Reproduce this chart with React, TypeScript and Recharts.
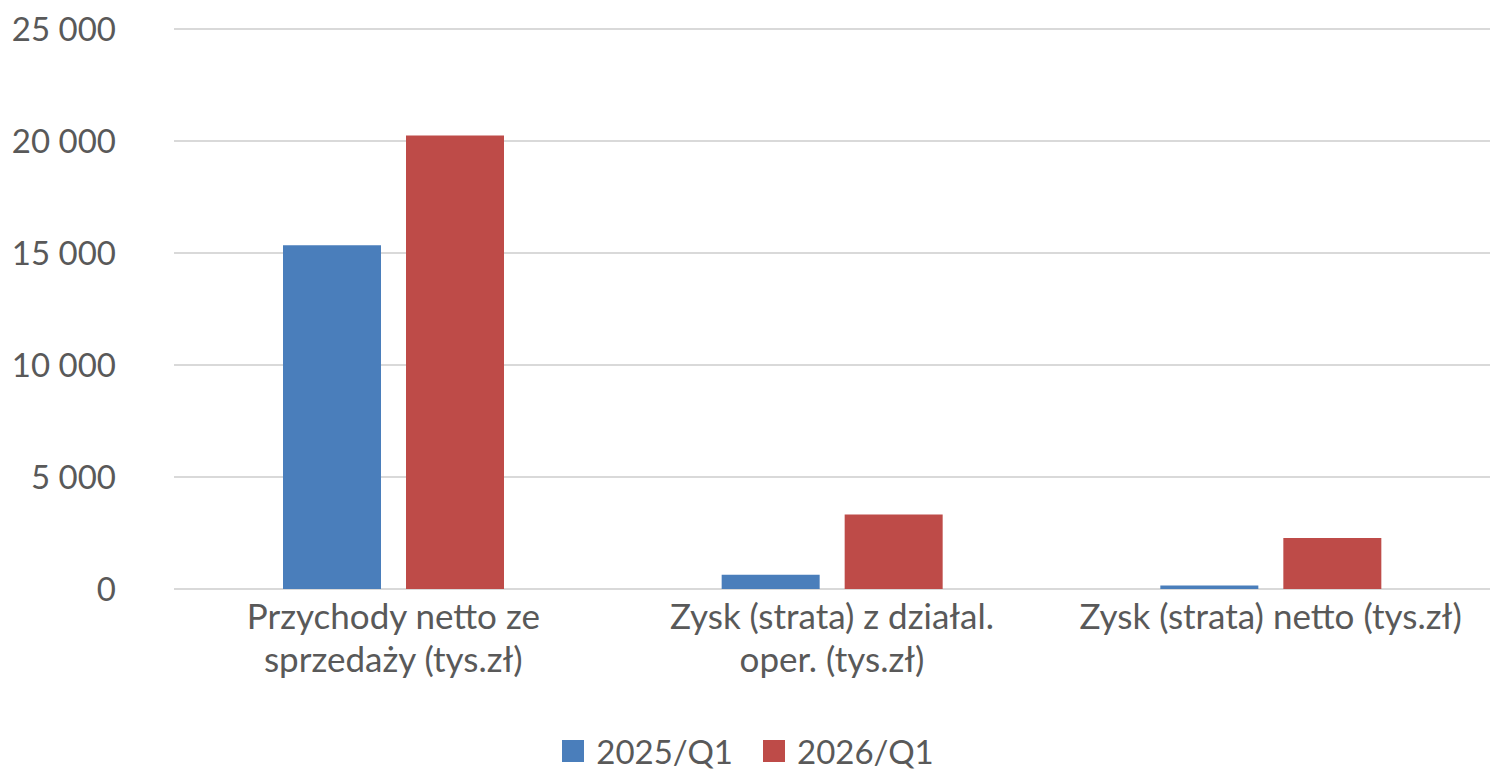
import { BarChart, Bar, XAxis, YAxis, CartesianGrid, Legend } from 'recharts'

const categories = ['Przychody netto ze\nsprzedaży (tys.zł)', 'Zysk (strata) z działal.\noper. (tys.zł)', 'Zysk (strata) netto (tys.zł)']
const q2025 = [15350, 640, 160]
const q2026 = [20250, 3330, 2280]
const yTicks = [0, 5000, 10000, 15000, 20000, 25000]

const data = categories.map((name, i) => ({ name, q2025: q2025[i], q2026: q2026[i] }))

const FONT = 'Lato, "Open Sans", sans-serif'
const TEXT = '#595959'

const fmt = (v: number) => v.toLocaleString('en-US').replace(/,/g, ' ')

function CategoryTick({ x, y, payload }: any) {
  const lines = String(payload.value).split('\n')
  return (
    <text x={x} y={y} textAnchor="middle" fill={TEXT} fontSize={35} fontFamily={FONT}>
      {lines.map((l, i) => (
        <tspan key={i} x={x} dy={i === 0 ? 32 : 43}>{l}</tspan>
      ))}
    </text>
  )
}

function LegendContent({ payload }: any) {
  return (
    <div style={{ display: 'flex', justifyContent: 'center', alignItems: 'center', fontFamily: FONT, fontSize: 33, color: TEXT, height: 40, paddingLeft: 6 }}>
      {(payload || []).map((p: any, i: number) => (
        <div key={p.value} style={{ display: 'flex', alignItems: 'center', marginLeft: i === 0 ? 0 : 30 }}>
          <span style={{ display: 'inline-block', width: 22, height: 22, background: p.color, marginRight: 12 }} />
          <span>{p.value}</span>
        </div>
      ))}
    </div>
  )
}

export default function App() {
  return (
    <div style={{ position: 'absolute', left: 0, top: 0, background: '#fff' }}>
      <BarChart
        width={1499}
        height={773}
        data={data}
        margin={{ top: 29, right: 9, left: 0, bottom: 2 }}
        barGap={25}
        barSize={98}
      >
        <CartesianGrid vertical={false} stroke="#d9d9d9" strokeWidth={2} />
        <XAxis dataKey="name" axisLine={false} tickLine={false} tick={<CategoryTick />} height={142} interval={0} />
        <YAxis
          width={174}
          domain={[0, 25000]}
          ticks={yTicks}
          tickFormatter={fmt}
          axisLine={false}
          tickLine={false}
          tickMargin={52}
          tick={{ fill: TEXT, fontSize: 33, fontFamily: FONT }}
        />
        <Legend content={<LegendContent />} />
        <Bar dataKey="q2025" name="2025/Q1" fill="#4a7ebb" isAnimationActive={false} />
        <Bar dataKey="q2026" name="2026/Q1" fill="#be4b48" isAnimationActive={false} />
      </BarChart>
    </div>
  )
}
